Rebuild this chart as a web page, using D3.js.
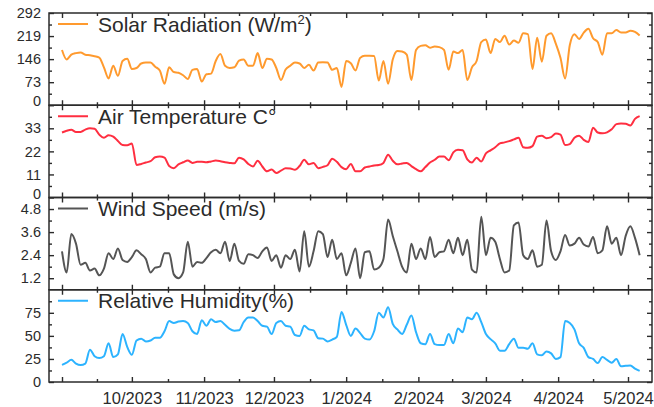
<!DOCTYPE html>
<html>
<head>
<meta charset="utf-8">
<script src="https://cdn.jsdelivr.net/npm/d3@7"></script>
<style>
  body { margin: 0; background: #fff; }
  svg { display: block; }
</style>
</head>
<body>
<svg id="chart" width="654" height="407"></svg>
<script>
// Daily-mean weather record, sampled every second day from 1 Sep 2023
const startDate = new Date(2023, 8, 1);
const stepDays = 2;

const solarRadiation = [
  175,145,160,165,167,160,158,155,151,120,
  85,125,93,140,147,115,118,132,135,135,
  122,110,68,120,105,103,95,83,112,115,
  75,98,100,140,162,125,118,120,141,145,
  125,125,165,118,147,145,118,80,113,125,
  135,132,118,128,110,135,136,135,112,118,
  58,140,133,110,150,157,157,156,78,140,
  68,145,172,170,160,80,175,188,190,182,
  186,184,175,112,170,165,175,80,120,140,
  200,208,165,210,200,220,192,205,198,228,
  225,115,214,138,220,228,195,150,85,190,
  225,210,230,242,212,200,160,228,228,238,
  230,230,236,232,221
];

const airTemperature = [
  31,31.8,32.3,31.3,31.3,32.4,33,32.8,30,28.5,
  29.7,29,27,25,24.9,25.8,15.5,16,16.7,17.3,
  19.2,19.6,19,15,14,15.8,16.8,17.7,16.5,17,
  17.1,16.8,17.2,17.6,17.3,16.8,16.5,16.3,19,18.2,
  16,14.8,17.5,14.8,12.5,13.3,11.7,12.8,13.9,13.8,
  13.2,15,18,15.8,16.5,14,14.6,15.4,18.5,17,
  14.5,13.5,16,12.5,12.5,14.3,14.8,15.3,15.5,16.5,
  20.4,17.5,15.8,16.2,16.5,15,13.5,12.5,14.5,16.7,
  18,19.5,19.5,17.8,21.5,22.8,22.5,18.2,16.7,19,
  17.2,21,22.5,24,25.8,26.3,26.9,27.7,28.5,24,
  23.7,24.5,29,29.5,28.3,28.8,30.5,30,25,25.5,
  28.5,29.5,27.5,26.5,33.3,31,30.6,31.1,32.5,35,
  35.3,35.2,34.3,37.5,38.8
];

const windSpeed = [
  2.6,1.5,3.5,3.0,1.9,2.0,1.6,1.7,1.35,1.7,
  2.5,2.2,2.75,2.15,2.05,2.3,2.65,2.45,2.2,1.5,
  1.75,1.8,2.5,2.5,1.4,1.2,1.5,3.1,1.8,2.05,
  2.0,2.25,2.55,2.68,2.5,3.1,2.1,3.0,2.1,1.95,
  2.45,2.4,2.25,2.6,2.8,2.1,2.4,1.75,2.4,2.2,
  2.68,1.55,3.65,1.8,2.6,3.65,3.5,2.3,3.2,2.2,
  2.5,1.35,2.0,2.75,1.2,2.55,2.6,1.65,1.75,2.2,
  4.25,3.4,2.6,1.8,1.5,3.0,2.2,2.75,2.2,3.35,
  2.3,2.55,2.6,3.2,2.5,3.3,2.4,3.2,1.65,1.5,
  4.4,2.4,3.3,3.1,2.2,1.5,1.6,3.95,4.1,2.4,
  2.2,2.65,1.8,1.9,4.2,2.6,2.15,2.6,3.45,2.9,
  3.0,3.3,2.95,2.85,3.35,2.5,2.65,3.9,3.0,3.3,
  2.4,3.4,3.9,3.3,2.4
];

const relativeHumidity = [
  18.5,21,24,20,18.5,20,35,28,26,28,
  42,27,30,52,38,29.5,45,47,44,45,
  48,48,55,66,64,65.5,66,64,55,52,
  67,61,68,65,66,62,57.5,55.5,56,65,
  70,70,66,61,60,52,64,66,61,60,
  51,50,61,57,56,47.5,47,44,46,49,
  76,62,50,58,53,47,46,55,75,70,
  81,63,57,52,62,72,54,42,41,52,
  41,40,40,52,42,58,54,70,68,75,
  65,52,46.5,42,34,34,41,47,37,37,
  36,42,30,29,33,31,25,27,66,64,
  57,42,37,27,25,20.5,27,24,21,25,
  17,17.5,18,14.5,12
];

// Axis ticks
const monthTicks = [
  new Date(2023, 8, 1), new Date(2023, 9, 1), new Date(2023, 10, 1),
  new Date(2023, 11, 1), new Date(2024, 0, 1), new Date(2024, 1, 1),
  new Date(2024, 2, 1), new Date(2024, 3, 1), new Date(2024, 4, 1)
];
const labelledMonths = monthTicks.slice(1); // 10/2023 … 5/2024
const solarTicks = [0, 73, 146, 219, 292];
const temperatureTicks = [0, 11, 22, 33];
const windTicks = [1.2, 2.4, 3.6, 4.8];
const humidityTicks = [0, 25, 50, 75];

const dates = solarRadiation.map((_, i) => d3.timeDay.offset(startDate, i * stepDays));

const panels = [
  { name: "Solar Radiation (W/m", sup: "2", tail: ")", values: solarRadiation,
    color: "#ff9a2e", domain: [0, 292], ticks: solarTicks, step: 73 },
  { name: "Air Temperature C°", values: airTemperature,
    color: "#ff2e40", domain: [0, 44], ticks: temperatureTicks, step: 11 },
  { name: "Wind Speed (m/s)", values: windSpeed,
    color: "#555555", domain: [0.6, 5.4], ticks: windTicks, step: 1.2 },
  { name: "Relative Humidity(%)", values: relativeHumidity,
    color: "#2cb3ff", domain: [0, 100], ticks: humidityTicks, step: 25 }
];

// Layout
const frame = { left: 49, right: 652, top: 13, bottom: 382 };
const panelH = (frame.bottom - frame.top) / panels.length;
const font = "'Liberation Sans', Arial, Helvetica, sans-serif";
const ink = "#2b2b2b";
const majorLen = 5, minorLen = 3;

const x = d3.scaleTime()
  .domain([monthTicks[0], monthTicks[monthTicks.length - 1]])
  .range([62, 628]);

// Half-month minor ticks between month starts
const monthMinor = d3.pairs(monthTicks).map(([a, b]) => new Date((+a + +b) / 2));

const svg = d3.select("#chart").attr("font-family", font);

function styleAxis(g) {
  g.select(".domain").remove();
  g.selectAll(".tick line").attr("stroke", ink).attr("stroke-width", 1.4);
  g.selectAll(".tick text").attr("fill", ink);
}

panels.forEach((p, k) => {
  const top = frame.top + k * panelH;
  const bottom = top + panelH;
  const y = d3.scaleLinear().domain(p.domain).range([bottom, top]);
  const g = svg.append("g");

  const minorY = d3.range(p.ticks[0] - p.step / 2, p.domain[1] + 1e-9, p.step / 2)
    .filter(v => v > p.domain[0] + 1e-9 && v < p.domain[1] - 1e-9 &&
      !p.ticks.some(t => Math.abs(t - v) < 1e-6));

  // Data line
  const line = d3.line()
    .x((d, i) => x(dates[i]))
    .y(d => y(d))
    .curve(d3.curveMonotoneX);
  g.append("path")
    .datum(p.values)
    .attr("d", line)
    .attr("fill", "none")
    .attr("stroke", p.color)
    .attr("stroke-width", 2)
    .attr("stroke-linejoin", "round");

  // Left axis with labels; a label sitting on the panel's bottom edge is lifted
  // a little so it clears the top label of the panel below
  g.append("g")
    .attr("transform", `translate(${frame.left},0)`)
    .call(d3.axisLeft(y).tickValues(p.ticks).tickSize(-majorLen).tickPadding(8)
      .tickFormat(d3.format("")))
    .call(styleAxis)
    .call(a => a.selectAll(".tick text")
      .attr("font-size", 14.5)
      .attr("dy", d => (d === p.domain[0] && k < panels.length - 1) ? "0.05em" : "0.32em"));
  g.append("g")
    .attr("transform", `translate(${frame.left},0)`)
    .call(d3.axisLeft(y).tickValues(minorY).tickSize(-minorLen).tickFormat(""))
    .call(styleAxis);

  // Right axis (ticks only)
  g.append("g")
    .attr("transform", `translate(${frame.right},0)`)
    .call(d3.axisRight(y).tickValues(p.ticks).tickSize(-majorLen).tickFormat(""))
    .call(styleAxis);
  g.append("g")
    .attr("transform", `translate(${frame.right},0)`)
    .call(d3.axisRight(y).tickValues(minorY).tickSize(-minorLen).tickFormat(""))
    .call(styleAxis);

  // Top and bottom time ticks
  g.append("g")
    .attr("transform", `translate(0,${top})`)
    .call(d3.axisTop(x).tickValues(monthTicks).tickSize(-majorLen).tickFormat(""))
    .call(styleAxis);
  g.append("g")
    .attr("transform", `translate(0,${top})`)
    .call(d3.axisTop(x).tickValues(monthMinor).tickSize(-minorLen).tickFormat(""))
    .call(styleAxis);
  const isLast = k === panels.length - 1;
  g.append("g")
    .attr("transform", `translate(0,${bottom})`)
    .call(d3.axisBottom(x).tickValues(monthTicks).tickSize(-majorLen).tickPadding(10)
      .tickFormat(d => (isLast && labelledMonths.some(m => +m === +d)) ? d3.timeFormat("%-m/%Y")(d) : ""))
    .call(styleAxis)
    .call(a => a.selectAll(".tick text").attr("font-size", 16.5));
  g.append("g")
    .attr("transform", `translate(0,${bottom})`)
    .call(d3.axisBottom(x).tickValues(monthMinor).tickSize(-minorLen).tickFormat(""))
    .call(styleAxis);

  // Panel frame
  g.append("rect")
    .attr("x", frame.left).attr("y", top)
    .attr("width", frame.right - frame.left).attr("height", panelH)
    .attr("fill", "none").attr("stroke", ink).attr("stroke-width", 1.5);

  // Legend
  const baseline = top + 18.5;
  g.append("line")
    .attr("x1", 58).attr("x2", 88)
    .attr("y1", baseline - 7.5).attr("y2", baseline - 7.5)
    .attr("stroke", p.color).attr("stroke-width", 2);
  const t = g.append("text")
    .attr("x", 98).attr("y", baseline)
    .attr("font-size", 21).attr("fill", ink)
    .text(p.name);
  if (p.sup) {
    t.append("tspan").attr("dy", -8).attr("font-size", 13).text(p.sup);
    t.append("tspan").attr("dy", 8).text(p.tail);
  }
});
</script>
</body>
</html>
